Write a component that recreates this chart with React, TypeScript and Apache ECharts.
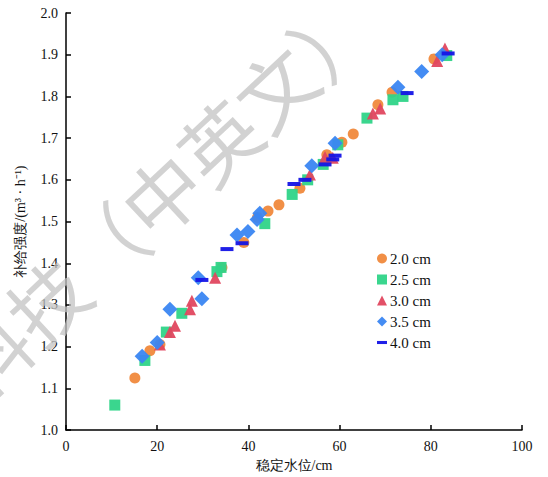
import React, { useEffect, useRef } from "react";
import * as echarts from "echarts";

const seriesNames = ["2.0 cm", "2.5 cm", "3.0 cm", "3.5 cm", "4.0 cm"];
const colors = ["#F0893C", "#2FD488", "#E0475F", "#3A86F2", "#1414E6"];

const s20: [number, number][] = [
  [15.1, 1.125], [18.4, 1.19], [20.6, 1.205], [34.2, 1.39], [39.0, 1.45], [42.0, 1.51],
  [44.3, 1.525], [46.7, 1.54], [51.3, 1.58], [57.2, 1.66], [60.5, 1.69], [63.0, 1.71],
  [68.4, 1.78], [71.5, 1.81], [80.7, 1.89],
];
const s25: [number, number][] = [
  [10.7, 1.06], [17.3, 1.167], [22.0, 1.235], [25.4, 1.28], [33.1, 1.38], [34.0, 1.39],
  [43.6, 1.495], [49.6, 1.565], [53.0, 1.60], [56.4, 1.637], [59.6, 1.684], [66.0, 1.748],
  [71.7, 1.792], [73.9, 1.80], [83.5, 1.898],
];
const s30: [number, number][] = [
  [20.6, 1.205], [22.8, 1.235], [23.9, 1.25], [27.2, 1.29], [27.6, 1.31], [32.7, 1.365],
  [53.5, 1.613], [56.8, 1.655], [58.5, 1.653], [67.3, 1.759], [68.9, 1.771], [81.4, 1.885],
  [83.1, 1.915],
];
const s35: [number, number][] = [
  [16.7, 1.177], [20.0, 1.21], [22.8, 1.29], [29.8, 1.315], [29.0, 1.365], [37.5, 1.468],
  [39.9, 1.476], [41.9, 1.505], [42.5, 1.52], [53.9, 1.634], [59.0, 1.688], [72.8, 1.822],
  [78.0, 1.86], [82.5, 1.90],
];
const s40: [number, number][] = [
  [29.8, 1.36], [35.3, 1.434], [38.6, 1.448], [50.0, 1.59], [52.4, 1.60], [56.8, 1.637],
  [58.5, 1.649], [59.0, 1.658], [74.8, 1.808], [83.8, 1.903],
];

const xTicks = [0, 20, 40, 60, 80, 100];
const yTicks = [1.0, 1.1, 1.2, 1.3, 1.4, 1.5, 1.6, 1.7, 1.8, 1.9, 2.0];

const dashIcon = "path://M0,0h13v4h-13z";

export default function App() {
  const ref = useRef<HTMLDivElement>(null);
  useEffect(() => {
    if (!ref.current) return;
    const chart = echarts.init(ref.current, null, { renderer: "svg" });
    const serif = "Liberation Serif";
    const datasets = [s20, s25, s30, s35, s40];
    const symbols: any[] = ["circle", "rect", "triangle", "diamond", "rect"];
    const sizes: any[] = [11, 11, 12, 15, [13, 4]];
    const legendIcons = ["circle", "rect", "triangle", "diamond", dashIcon];
    chart.setOption({
      animation: false,
      backgroundColor: "#ffffff",
      grid: { left: 66, right: 26, top: 13, bottom: 40, containLabel: false },
      legend: {
        orient: "vertical",
        left: 372,
        top: 246,
        itemWidth: 10,
        itemHeight: 10,
        itemGap: 6,
        textStyle: { fontFamily: serif, fontSize: 15, color: "#111", padding: [0, 0, 0, -2] },
        data: seriesNames.map((n, i) => ({
          name: n,
          icon: legendIcons[i],
        })),
      },
      xAxis: {
        type: "value",
        min: 0,
        max: 100,
        interval: 20,
        name: "稳定水位/cm",
        nameLocation: "middle",
        nameGap: 23,
        nameTextStyle: { fontFamily: serif, fontSize: 14, color: "#111" },
        axisLine: { show: true, lineStyle: { color: "#000", width: 1.5 } },
        axisTick: { show: true, inside: true, length: 5, lineStyle: { color: "#000", width: 1.5 } },
        axisLabel: {
          fontFamily: serif,
          fontSize: 14,
          color: "#111",
          margin: 9,
          formatter: (v: number) => (xTicks.includes(v) ? String(v) : ""),
        },
        splitLine: { show: false },
      },
      yAxis: {
        type: "value",
        min: 1.0,
        max: 2.0,
        interval: 0.1,
        name: "补给强度/(m³ · h⁻¹)",
        nameLocation: "middle",
        nameGap: 39,
        nameTextStyle: { fontFamily: serif, fontSize: 14, color: "#111" },
        axisLine: { show: true, lineStyle: { color: "#000", width: 1.5 } },
        axisTick: { show: true, inside: true, length: 5, lineStyle: { color: "#000", width: 1.5 } },
        axisLabel: {
          fontFamily: serif,
          fontSize: 14,
          color: "#111",
          margin: 8,
          formatter: (v: number) => {
            const t = yTicks.find((y) => Math.abs(y - v) < 1e-6);
            return t !== undefined ? t.toFixed(1) : "";
          },
        },
        splitLine: { show: false },
      },
      series: datasets.map((d, i) => ({
        name: seriesNames[i],
        type: "scatter",
        data: d,
        symbol: symbols[i],
        symbolSize: sizes[i],
        itemStyle: { color: colors[i], opacity: 0.95 },
        z: 2 + i,
      })),
      graphic: [
        {
          type: "text",
          x: 160,
          y: 193,
          rotation: (43 * Math.PI) / 180,
          z: 100,
          silent: true,
          style: {
            text: "科技（中英文）",
            fontSize: 78,
            fontFamily: "Noto Sans CJK SC",
            fontWeight: 400,
            fill: "rgba(195,195,195,0.75)",
            align: "center",
            verticalAlign: "middle",
          },
        },
      ],
    });
    return () => chart.dispose();
  }, []);
  return (
    <div
      ref={ref}
      style={{ position: "fixed", left: 0, top: 0, width: 548, height: 477, background: "#fff" }}
    />
  );
}
